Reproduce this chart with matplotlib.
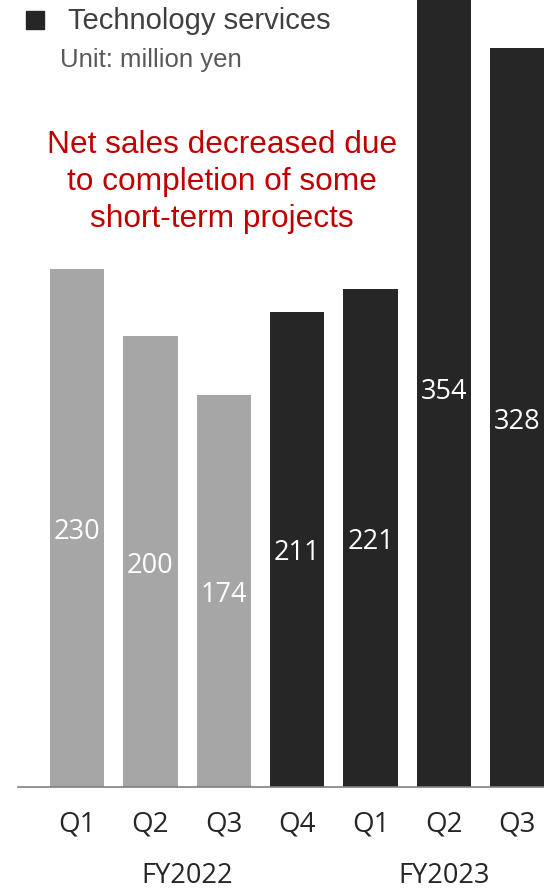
import matplotlib.pyplot as plt
from matplotlib.patches import Rectangle

# ================= DATA ================= #
QUARTERS = ["Q1", "Q2", "Q3", "Q4", "Q1", "Q2", "Q3"]
NET_SALES = [230, 200, 174, 211, 221, 354, 328]  # million yen
FISCAL_YEARS = ["FY2022", "FY2023"]
FY_SPANS = [(0, 3), (4, 6)]  # first and last bar index of each fiscal year

GRAY = "#A6A6A6"
DARK = "#262626"
BAR_COLORS = [GRAY, GRAY, GRAY, DARK, DARK, DARK, DARK]

W, H = 544, 889
fig = plt.figure(figsize=(W / 100, H / 100), dpi=100)
ax = fig.add_axes([0, 0, 1, 1])

# pixel layout: bar centres 73.4 px apart starting at x=77, baseline at y=787
step = 73.4
px_per_unit = 2.253
ax.set_xlim(-77 / step, (W - 77) / step)
ax.set_ylim(-(H - 787) / px_per_unit, 787 / px_per_unit)
ax.axis("off")

x = list(range(len(NET_SALES)))
ax.bar(x, NET_SALES, width=0.74, color=BAR_COLORS, zorder=2)

# baseline
ax.plot([(18 - 77) / step, (W - 77) / step], [0, 0], color="#808080", lw=1.2, zorder=3)

label_font = ["Open Sans", "DejaVu Sans"]
for i, v in enumerate(NET_SALES):
    ax.text(i, v / 2 - 4 / px_per_unit, str(v), ha="center", va="center",
            color="white", fontsize=19.5, family=label_font, zorder=4)

for i, q in enumerate(QUARTERS):
    ax.text(i, -(825 - 787) / px_per_unit, q, ha="center", va="center",
            color="#262626", fontsize=20, family=label_font)

for fy, (a, b) in zip(FISCAL_YEARS, FY_SPANS):
    ax.text((a + b) / 2, -(876 - 787) / px_per_unit, fy, ha="center", va="center",
            color="#262626", fontsize=19.5, family=label_font)

# legend and unit
fig.patches.append(Rectangle((26 / W, 1 - 29 / H), 18 / W, 18 / H,
                             transform=fig.transFigure, color=DARK))
fig.text(68 / W, 1 - 21 / H, "Technology services", ha="left", va="center",
         color="#404040", fontsize=21, family="Liberation Sans")
fig.text(60 / W, 1 - 60 / H, "Unit: million yen", ha="left", va="center",
         color="#595959", fontsize=18.5, family="Liberation Sans")

# annotation
fig.text(222 / W, 1 - 182 / H,
         "Net sales decreased due\nto completion of some\nshort-term projects",
         ha="center", va="center", color="#C00000", fontsize=22.8,
         family="Liberation Sans", linespacing=1.31)

fig.savefig("out.png", dpi=100)
